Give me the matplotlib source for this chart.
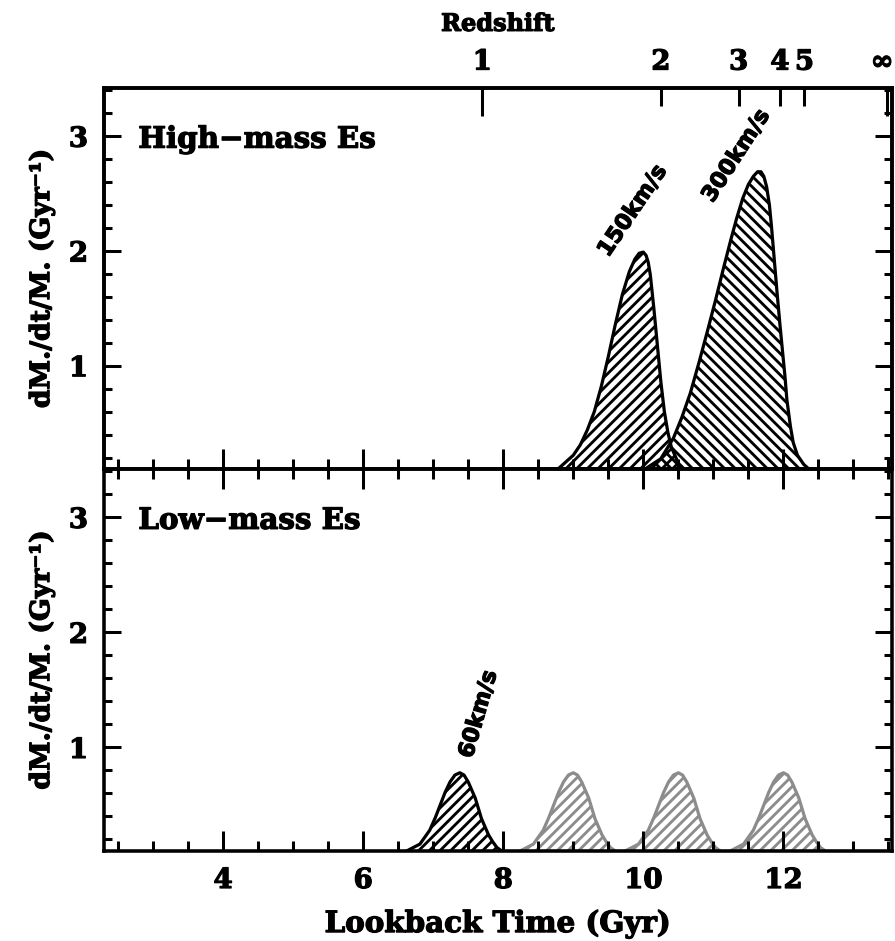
import matplotlib
matplotlib.use("Agg")
import matplotlib.pyplot as plt
import matplotlib.patheffects as pe
import matplotlib.transforms as mtrans
from matplotlib.text import Text
from matplotlib.ticker import MultipleLocator, FixedLocator

# ---------------- data ----------------
# High-mass Es, 150 km/s  (lookback time Gyr, dM*/dt/M* Gyr^-1)
t150 = [8.40, 8.60, 8.80, 9.00, 9.10, 9.20, 9.30, 9.40, 9.50, 9.60, 9.70, 9.80,
        9.88, 9.94, 10.00, 10.04, 10.07, 10.10, 10.15, 10.20, 10.25, 10.30,
        10.35, 10.40, 10.50, 10.60, 10.80]
y150 = [0.00, 0.04, 0.11, 0.22, 0.31, 0.44, 0.60, 0.82, 1.08, 1.36, 1.62, 1.82,
        1.93, 1.98, 1.99, 1.96, 1.90, 1.79, 1.50, 1.18, 0.86, 0.60,
        0.42, 0.29, 0.15, 0.09, 0.02]

# High-mass Es, 300 km/s
t300 = [9.70, 9.90, 10.05, 10.25, 10.43, 10.55, 10.67, 10.80, 10.91, 11.03, 11.14,
        11.25, 11.33, 11.42, 11.50, 11.57, 11.63, 11.68, 11.72, 11.76, 11.80, 11.83,
        11.87, 11.91, 11.95, 11.98, 12.02, 12.05, 12.10, 12.14, 12.20, 12.29,
        12.40, 12.60]
y300 = [0.00, 0.05, 0.11, 0.19, 0.37, 0.55, 0.76, 1.04, 1.29, 1.57, 1.84,
        2.10, 2.28, 2.46, 2.58, 2.65, 2.69, 2.69, 2.65, 2.56, 2.40, 2.21,
        1.92, 1.63, 1.36, 1.17, 0.92, 0.70, 0.47, 0.33, 0.22, 0.14,
        0.08, 0.02]

# Low-mass Es, 60 km/s
t60 = [6.30, 6.50, 6.62, 6.81, 6.95, 7.03, 7.10, 7.17, 7.24, 7.31, 7.38, 7.44,
       7.50, 7.55, 7.60, 7.65, 7.69, 7.74, 7.79, 7.85, 7.91, 7.98, 8.10, 8.30]
y60 = [0.00, 0.05, 0.10, 0.16, 0.28, 0.39, 0.50, 0.61, 0.70, 0.76, 0.78, 0.76,
       0.70, 0.63, 0.56, 0.46, 0.38, 0.31, 0.24, 0.18, 0.13, 0.10, 0.05, 0.01]
peak60 = 7.38
# grey copies of the 60 km/s burst (peak positions, Gyr)
grey_peaks = [9.0, 10.5, 12.0]

# redshift axis: lookback time of z ticks
z_long_t = [7.70, 13.48]
z_long_lab = ["1", "\u221e"]
z_short_t = [10.25, 11.36, 11.95, 12.30]
z_short_lab = ["2", "3", "4", "5"]

x_major = [4, 6, 8, 10, 12]
y_major = [1, 2, 3]

# ---------------- figure ----------------
DPI = 128
plt.rcParams['font.family'] = ['DejaVu Serif']
plt.rcParams['font.weight'] = 'bold'
plt.rcParams['hatch.linewidth'] = 1.6

fig = plt.figure(figsize=(895 / DPI, 941 / DPI), dpi=DPI)
L, R = 104 / 895, 892 / 895
ax1 = fig.add_axes([L, 1 - 469 / 941, R - L, (469 - 88) / 941])
ax2 = fig.add_axes([L, 1 - 851 / 941, R - L, (851 - 469) / 941])

XLIM = (2.3, 13.55)
YLIM = (0.1, 3.42)
LW = 1.8
HATCH_F = '////'
HATCH_B = '\\\\\\\\'

for ax in (ax1, ax2):
    ax.set_xlim(*XLIM)
    ax.set_ylim(*YLIM)
    for sp in ax.spines.values():
        sp.set_linewidth(2.0)
    ax.xaxis.set_major_locator(FixedLocator(x_major))
    ax.xaxis.set_minor_locator(MultipleLocator(0.5))
    ax.yaxis.set_major_locator(FixedLocator(y_major))
    ax.yaxis.set_minor_locator(MultipleLocator(0.2))
    ax.tick_params(which='both', direction='in', right=True, width=1.7,
                   labelsize=15.5)
    ax.tick_params(axis='x', which='major', length=11)
    ax.tick_params(axis='x', which='minor', length=5.5)
    ax.tick_params(axis='y', which='major', length=9.5, pad=9)
    ax.tick_params(axis='y', which='minor', length=4.5)
    ax.set_ylabel("dM./dt/M. (Gyr\u207b\u00b9)", fontsize=15, fontweight='bold')
    ax.yaxis.set_label_coords(-0.062, 0.5)

ax1.tick_params(axis='x', which='both', top=False, bottom=True, labelbottom=False)
ax2.tick_params(axis='x', which='both', top=True, bottom=True, pad=9)

# top panel bursts
ax1.fill(t150, y150, facecolor='none', edgecolor='black', hatch=HATCH_F,
         linewidth=LW, joinstyle='round')
ax1.fill(t300, y300, facecolor='none', edgecolor='black', hatch=HATCH_B,
         linewidth=LW, joinstyle='round')

# bottom panel bursts
for pk in grey_peaks:
    tg = [t - peak60 + pk for t in t60]
    ax2.fill(tg, y60, facecolor='none', edgecolor='#8c8c8c', hatch=HATCH_F,
             linewidth=LW, joinstyle='round')
ax2.fill(t60, y60, facecolor='none', edgecolor='black', hatch=HATCH_F,
         linewidth=LW, joinstyle='round')

# labels
ax1.text(2.79, 2.9, "High\u2212mass Es", fontsize=16.5, fontweight='bold',
         va='baseline')
ax2.text(2.79, 2.9, "Low\u2212mass Es", fontsize=16.5, fontweight='bold',
         va='baseline')

ax1.text(9.85, 2.35, "150km/s", family='DejaVu Sans', fontweight='bold',
         fontsize=12.5, rotation=56, ha='center', va='center',
         rotation_mode='anchor')
ax1.text(11.33, 2.83, "300km/s", family='DejaVu Sans', fontweight='bold',
         fontsize=12.5, rotation=57, ha='center', va='center',
         rotation_mode='anchor')
ax2.text(7.65, 1.29, "60km/s", family='DejaVu Sans', fontweight='bold',
         fontsize=12.5, rotation=74, ha='center', va='center',
         rotation_mode='anchor')

ax2.set_xlabel("Lookback Time (Gyr)", fontsize=16.5, fontweight='bold')
ax2.xaxis.set_label_coords(0.5, -0.152)

# redshift axis
axz = ax1.twiny()
axz.set_xlim(*XLIM)
axz.set_xticks(z_long_t)
axz.set_xticklabels(z_long_lab)
axz.set_xticks(z_short_t, minor=True)
axz.set_xticklabels(z_short_lab, minor=True)
axz.tick_params(axis='x', which='both', direction='in', top=True, bottom=False,
                labeltop=True, labelbottom=False, width=1.7, labelsize=15.5,
                pad=7)
axz.tick_params(axis='x', which='major', length=15.5)
axz.tick_params(axis='x', which='minor', length=10)
for sp in axz.spines.values():
    sp.set_linewidth(2.0)
axz.set_xlabel("Redshift", fontsize=13.5, fontweight='bold')
axz.xaxis.set_label_coords(0.5, 1.15)

# keep the infinity label just inside the figure edge
inf_label = axz.xaxis.get_major_ticks()[1].label2
inf_label.set_transform(inf_label.get_transform() +
                        mtrans.ScaledTranslation(-5 / DPI, 0, fig.dpi_scale_trans))

# heavier glyphs, as in the reference
fig.canvas.draw()
fx = [pe.withStroke(linewidth=0.7, foreground='black')]
for t in fig.findobj(Text):
    if t.get_text():
        t.set_path_effects(fx)

fig.savefig("out.png", dpi=DPI)
